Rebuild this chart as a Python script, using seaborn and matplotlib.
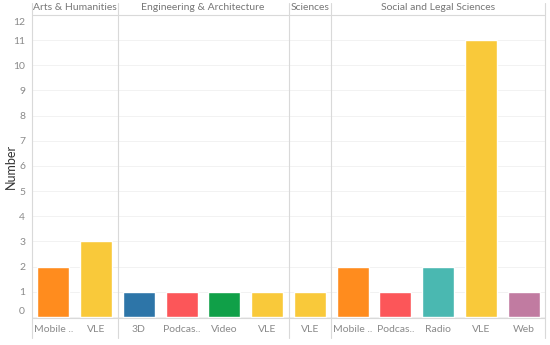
import matplotlib
matplotlib.use("Agg")
import matplotlib.pyplot as plt
import matplotlib.transforms as mtransforms
import pandas as pd
import seaborn as sns

# ==========================
# Data
# ==========================

faculties = ["Arts & Humanities", "Engineering & Architecture", "Sciences", "Social and Legal Sciences"]
faculty_sizes = [2, 4, 1, 5]
media = ["Mobile ..", "VLE",
         "3D", "Podcas..", "Video", "VLE",
         "VLE",
         "Mobile ..", "Podcas..", "Radio", "VLE", "Web"]
counts = [2, 3,
          1, 1, 1, 1,
          1,
          2, 1, 2, 11, 1]
y_ticks = list(range(0, 13))

colors = {
    "Mobile ..": "#FF8C1E",
    "VLE": "#F9C93A",
    "3D": "#2D75A8",
    "Podcas..": "#FC5659",
    "Video": "#10A048",
    "Radio": "#4AB8B1",
    "Web": "#C17BA1",
}

df = pd.DataFrame({"slot": range(len(media)), "media": media, "count": counts})

# ==========================
# Plot
# ==========================

sns.set_style("white")
plt.rcParams["font.family"] = ["Lato", "DejaVu Sans"]

fig = plt.figure(figsize=(5.5, 3.45), dpi=100)
ax = fig.add_axes([32 / 550, 27 / 345, 513 / 550, 303 / 345])

sns.barplot(data=df, x="slot", y="count", hue="media", palette=colors,
            dodge=False, width=0.75, legend=False, ax=ax, saturation=1)

ax.set_xlim(-0.5, len(media) - 0.5)
ax.set_ylim(-0.04, 12.0)
ax.set_yticks(y_ticks)
ax.set_yticklabels([str(t) for t in y_ticks])
ax.set_xticks(range(len(media)))
ax.set_xticklabels(media)
ax.tick_params(axis="both", length=0, colors="#8a8a8a", labelsize=7.5)
ax.tick_params(axis="x", pad=5)
ax.tick_params(axis="y", pad=5)
ax.set_xlabel("")
ax.set_ylabel("Number", fontsize=9, color="#333333", va="center")
ax.yaxis.set_label_coords(-21 / 513, 0.5)

for s in ax.spines.values():
    s.set_visible(False)

# faint gridlines
for t in y_ticks:
    ax.axhline(t, color="#f0f0f0", lw=0.6, zorder=0)

# nudge edge labels inside
labels = ax.get_yticklabels()
labels[0].set_transform(labels[0].get_transform() + mtransforms.ScaledTranslation(0, 5 / 72, fig.dpi_scale_trans))
labels[-1].set_transform(labels[-1].get_transform() + mtransforms.ScaledTranslation(0, -5 / 72, fig.dpi_scale_trans))

line_col = "#d9d9d9"
trans = mtransforms.blended_transform_factory(ax.transData, ax.transAxes)

# header line and bottom axis line
ax.plot([-0.5, len(media) - 0.5], [1, 1], transform=trans, color=line_col, lw=0.8, clip_on=False)
ax.plot([-0.5, len(media) - 0.5], [0, 0], transform=trans, color=line_col, lw=0.8, clip_on=False)

# panel separators and headers
start = 0
edges = [-0.5]
for name, size in zip(faculties, faculty_sizes):
    end = start + size
    edges.append(end - 0.5)
    ax.text((start + end - 1) / 2, 1 + 7 / 303, name, transform=trans, ha="center", va="center",
            fontsize=7.5, color="#777777")
    start = end

for e in edges:
    ax.plot([e, e], [-20 / 303, 1 + 12 / 303], transform=trans, color=line_col, lw=0.8, clip_on=False)

fig.savefig("out.png", dpi=100)
